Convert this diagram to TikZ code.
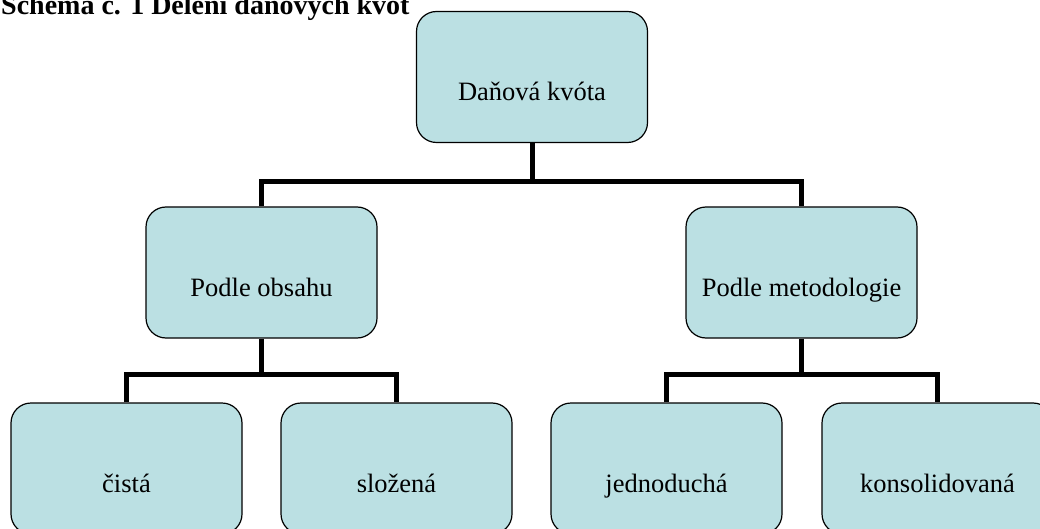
\documentclass[tikz,border=0pt]{standalone}
\usepackage{fontspec}
\setmainfont{Liberation Serif}
\usepackage{xcolor}
\usetikzlibrary{calc}
\definecolor{boxfill}{RGB}{187,224,227}

\begin{document}
\begin{tikzpicture}[x=1pt, y=1pt,
		kvota/.style={draw, line width=1.2pt, fill=boxfill, rounded corners=20pt,
			minimum width=231pt, inner xsep=0pt, inner ysep=0pt,
			text height=89pt, text depth=42pt, font=\fontsize{26.5}{30}\selectfont},
		vetev/.style={line width=5pt}]
		\clip (0, 0) rectangle (1040, 528);

		% title
		\node[anchor=base west, inner sep=0pt, font=\fontsize{28}{30}\selectfont\bfseries] (nadpis) at (1, 513) {Schéma č. 1 Dělení daňových kvót};

		% boxes
		\node[kvota] (kvota) at (532, 451) {Daňová kvóta};
		\node[kvota] (obsah) at (261.5, 255.5) {Podle obsahu};
		\node[kvota] (metod) at (801.5, 255.5) {Podle metodologie};
		\node[kvota] (cista) at (126.5, 59.5) {čistá};
		\node[kvota] (slozena) at (396.5, 59.5) {složená};
		\node[kvota] (jedno) at (666.5, 59.5) {jednoduchá};
		\node[kvota] (konsol) at (937.5, 59.5) {konsolidovaná};

		% connectors
		\draw[vetev] (kvota.south) -- ++(0, -38) coordinate (j1);
		\draw[vetev] (obsah.north) |- (j1) -| (metod.north);
		\draw[vetev] (obsah.south) -- ++(0, -36) coordinate (j2);
		\draw[vetev] (cista.north) |- (j2) -| (slozena.north);
		\draw[vetev] (metod.south) -- ++(0, -36) coordinate (j3);
		\draw[vetev] (jedno.north) |- (j3) -| (konsol.north);
	\end{tikzpicture}
\end{document}
